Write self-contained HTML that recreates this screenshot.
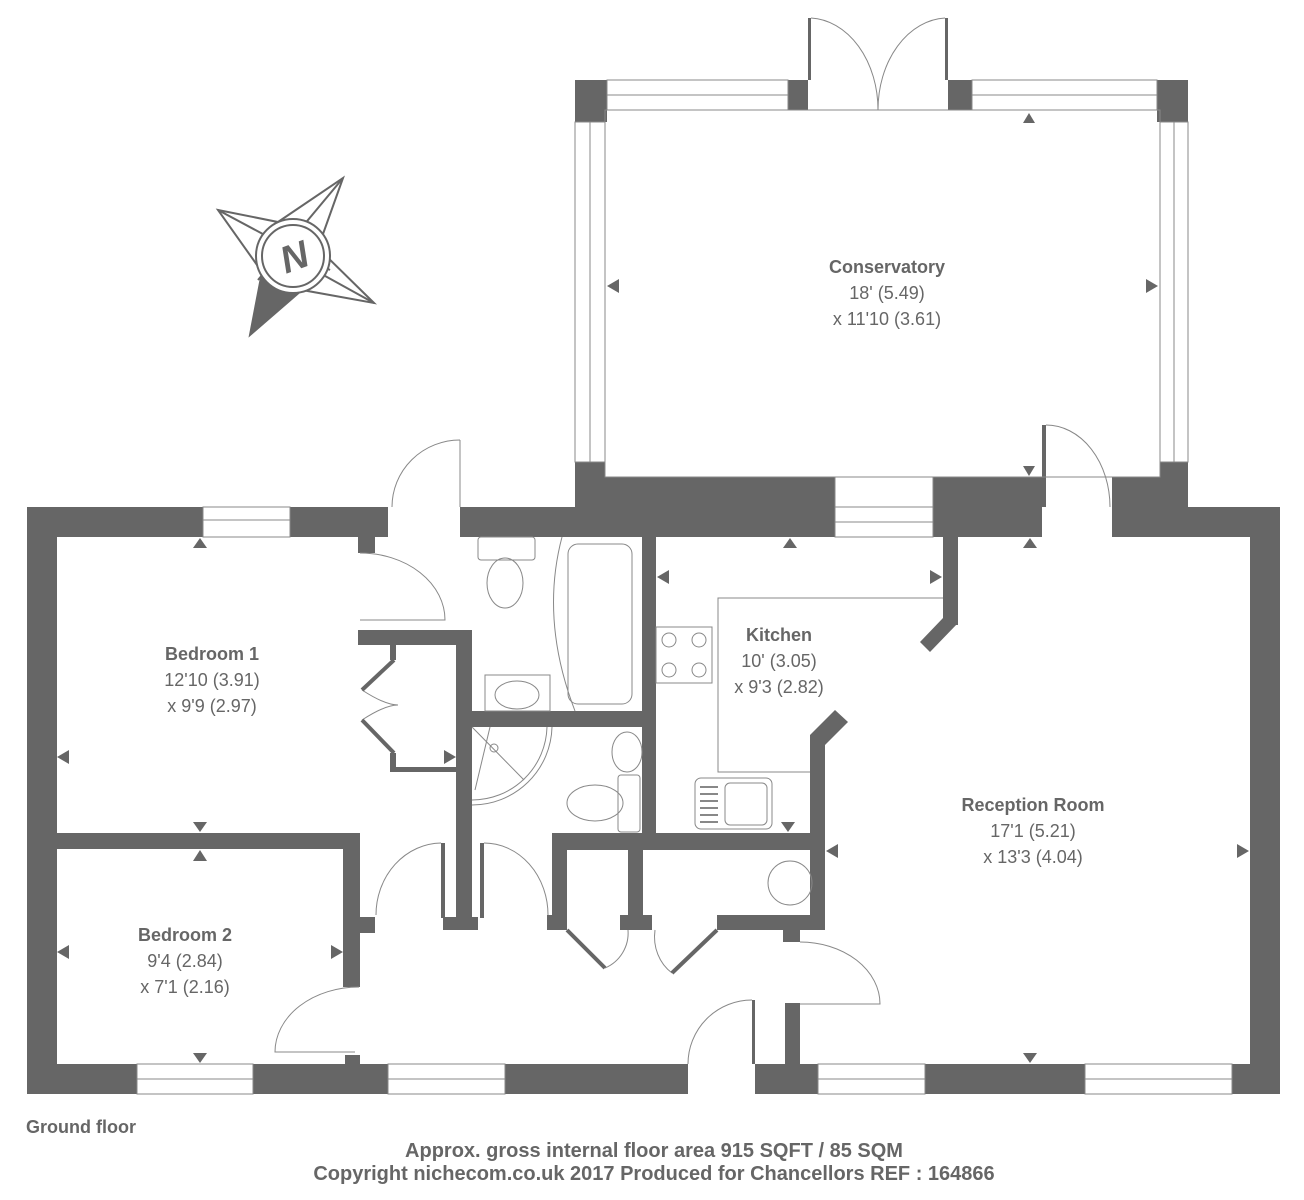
<!DOCTYPE html>
<html><head><style>
html,body{margin:0;padding:0;background:#fff}
svg{display:block}
text{font-family:"Liberation Sans",sans-serif;fill:#666}
</style></head><body>
<svg width="1304" height="1200" viewBox="0 0 1304 1200" xmlns="http://www.w3.org/2000/svg">
<g fill="#666">
<rect x="575" y="80" width="32" height="42"/>
<rect x="788" y="80" width="20" height="30"/>
<rect x="948" y="80" width="24" height="30"/>
<rect x="1157" y="80" width="31" height="42"/>
<rect x="575" y="462" width="30" height="20"/>
<rect x="1160" y="462" width="28" height="20"/>
<rect x="575" y="477" width="260" height="60"/>
<rect x="933" y="477" width="109" height="60"/>
<rect x="1112" y="477" width="76" height="60"/>
<rect x="27" y="507" width="176" height="30"/>
<rect x="290" y="507" width="98" height="30"/>
<rect x="358" y="537" width="17" height="16"/>
<rect x="460" y="507" width="120" height="30"/>
<rect x="1112" y="507" width="168" height="30"/>
<rect x="27" y="507" width="30" height="587"/>
<rect x="1250" y="507" width="30" height="587"/>
<rect x="27" y="1064" width="110" height="30"/>
<rect x="253" y="1064" width="135" height="30"/>
<rect x="505" y="1064" width="183" height="30"/>
<rect x="755" y="1064" width="63" height="30"/>
<rect x="925" y="1064" width="160" height="30"/>
<rect x="1232" y="1064" width="48" height="30"/>
<rect x="57" y="833" width="303" height="16"/>
<rect x="343" y="833" width="17" height="154"/>
<rect x="359" y="917" width="16" height="16"/>
<rect x="345" y="1055" width="15" height="9"/>
<rect x="358" y="630" width="114" height="15"/>
<rect x="456" y="630" width="16" height="300"/>
<rect x="443" y="917" width="35" height="13"/>
<rect x="390" y="645" width="6" height="15"/>
<rect x="390" y="753" width="6" height="19"/>
<rect x="390" y="767" width="66" height="5"/>
<rect x="441" y="843" width="4" height="75"/>
<rect x="480" y="843" width="4" height="75"/>
<rect x="472" y="711" width="170" height="16"/>
<rect x="642" y="537" width="14" height="300"/>
<rect x="552" y="833" width="273" height="17"/>
<rect x="552" y="833" width="15" height="97"/>
<rect x="547" y="915" width="20" height="15"/>
<rect x="628" y="850" width="15" height="80"/>
<rect x="620" y="915" width="32" height="15"/>
<rect x="717" y="915" width="108" height="15"/>
<rect x="810" y="735" width="15" height="195"/>
<polygon points="810,735 835,710 848,722 825,745"/>
<rect x="783" y="930" width="17" height="12"/>
<rect x="785" y="1003" width="15" height="61"/>
<rect x="943" y="537" width="15" height="88"/>
<polygon points="943,618 958,623 930,652 920,642"/>
<rect x="1042" y="425" width="4" height="82"/>
<rect x="808" y="18" width="3" height="62"/>
<rect x="945" y="18" width="3" height="62"/>
<rect x="752" y="1000" width="3" height="64"/>
</g>
<g fill="none" stroke="#888" stroke-width="1">
<rect x="607" y="80" width="181" height="30"/><line x1="607" y1="95" x2="788" y2="95"/>
<rect x="972" y="80" width="185" height="30"/><line x1="972" y1="95" x2="1157" y2="95"/>
<rect x="575" y="122" width="30" height="340"/><line x1="590" y1="122" x2="590" y2="462"/>
<rect x="1160" y="122" width="28" height="340"/><line x1="1174" y1="122" x2="1174" y2="462"/>
<rect x="835" y="477" width="98" height="60"/><line x1="835" y1="507" x2="933" y2="507"/><line x1="835" y1="522" x2="933" y2="522"/>
<rect x="203" y="507" width="87" height="30"/><line x1="203" y1="520" x2="290" y2="520"/>
<rect x="137" y="1064" width="116" height="30"/><line x1="137" y1="1079" x2="253" y2="1079"/>
<rect x="388" y="1064" width="117" height="30"/><line x1="388" y1="1079" x2="505" y2="1079"/>
<rect x="818" y="1064" width="107" height="30"/><line x1="818" y1="1079" x2="925" y2="1079"/>
<rect x="1085" y="1064" width="147" height="30"/><line x1="1085" y1="1079" x2="1232" y2="1079"/>
<rect x="605" y="110" width="555" height="367"/>
<path d="M811,18 A70,92 0 0 1 878,110"/>
<path d="M945,18 A70,92 0 0 0 878,110"/>
<path d="M1046,425 A64,82 0 0 1 1110,507"/>
<path d="M460,440 L460,507"/>
<path d="M460,440 A68,67 0 0 0 392,507"/>
<path d="M360,553 A85,67 0 0 1 445,620 L360,620"/>
<path d="M441,843 A66,72 0 0 0 376,915"/>
<path d="M484,843 A64,72 0 0 1 548,915"/>
<path d="M359,987 A84,65 0 0 0 275,1052 L355,1052"/>
<path d="M752,1000 A64,64 0 0 0 688,1064"/>
<path d="M800,942 A80,62 0 0 1 880,1004 L800,1004"/>
<path d="M605,968 A38,38 0 0 0 628,930"/>
<path d="M672,973 A38,43 0 0 1 655,930"/>
<path d="M362,690 Q385,705 398,705 Q385,705 362,720"/>
<rect x="478" y="537" width="57" height="23" rx="3"/>
<ellipse cx="505" cy="583" rx="18" ry="25"/>
<path d="M562,537 Q540,620 575,711"/>
<rect x="568" y="544" width="64" height="160" rx="10"/>
<rect x="485" y="675" width="65" height="36"/>
<ellipse cx="517" cy="695" rx="22" ry="14"/>
<path d="M472,800 A75,75 0 0 0 547,727"/>
<path d="M472,805 A80,80 0 0 0 552,727"/>
<circle cx="494" cy="748" r="4"/>
<line x1="472" y1="727" x2="524" y2="780"/><line x1="490" y1="727" x2="475" y2="790"/>
<ellipse cx="627" cy="752" rx="15" ry="20"/>
<rect x="618" y="775" width="22" height="57" rx="3"/>
<ellipse cx="595" cy="803" rx="28" ry="18"/>
<path d="M943,598 L718,598 L718,772 L810,772"/>
<rect x="656" y="627" width="56" height="56"/>
<circle cx="669" cy="640" r="7"/><circle cx="699" cy="640" r="7"/>
<circle cx="669" cy="670" r="7"/><circle cx="699" cy="670" r="7"/>
<rect x="695" y="778" width="77" height="51" rx="6"/>
<rect x="725" y="783" width="42" height="42" rx="5"/>
<g stroke-width="2"><line x1="700" y1="787" x2="718" y2="787"/><line x1="700" y1="794" x2="718" y2="794"/><line x1="700" y1="801" x2="718" y2="801"/><line x1="700" y1="808" x2="718" y2="808"/><line x1="700" y1="815" x2="718" y2="815"/><line x1="700" y1="822" x2="718" y2="822"/></g>
<circle cx="790" cy="883" r="22"/>
</g>
<g stroke="#666" stroke-width="4" fill="none">
<line x1="394" y1="660" x2="362" y2="690"/>
<line x1="362" y1="720" x2="394" y2="753"/>
<line x1="567" y1="930" x2="605" y2="968"/>
<line x1="717" y1="930" x2="672" y2="973"/>
</g>
<g fill="#666">
<polygon points="1023,123 1035,123 1029,113"/>
<polygon points="1023,466 1035,466 1029,476"/>
<polygon points="607,286 619,279 619,293"/>
<polygon points="1158,286 1146,279 1146,293"/>
<polygon points="193,548 207,548 200,538"/>
<polygon points="57,757 69,750 69,764"/>
<polygon points="456,757 444,750 444,764"/>
<polygon points="193,822 207,822 200,832"/>
<polygon points="193,861 207,861 200,850"/>
<polygon points="57,952 69,945 69,959"/>
<polygon points="343,952 331,945 331,959"/>
<polygon points="193,1053 207,1053 200,1063"/>
<polygon points="783,548 797,548 790,538"/>
<polygon points="657,577 669,570 669,584"/>
<polygon points="942,577 930,570 930,584"/>
<polygon points="781,822 795,822 788,832"/>
<polygon points="1023,548 1037,548 1030,538"/>
<polygon points="826,851 838,844 838,858"/>
<polygon points="1249,851 1237,844 1237,858"/>
<polygon points="1023,1053 1037,1053 1030,1063"/>
</g>
<!-- compass -->
<polygon points="250,335 262,272 300,292" fill="#666"/>
<g stroke="#666" stroke-width="2" fill="none" stroke-linejoin="miter">
<polygon points="218,210 278,222 343,178 318,248 374,303 302,290 250,335 262,272"/>
<line x1="218" y1="210" x2="330" y2="270"/>
<line x1="343" y1="178" x2="258" y2="280"/>
<line x1="374" y1="303" x2="260" y2="240"/>
</g>
<circle cx="293" cy="256" r="37" fill="#fff" stroke="#666" stroke-width="2"/>
<circle cx="293" cy="256" r="31" fill="none" stroke="#666" stroke-width="2"/>
<text x="294" y="270" text-anchor="middle" font-size="38" font-weight="bold" font-style="italic" transform="rotate(-20 294 256)">N</text>
<g text-anchor="middle" font-size="18">
<text x="887" y="273" font-weight="bold">Conservatory</text>
<text x="887" y="299">18' (5.49)</text>
<text x="887" y="325">x 11'10 (3.61)</text>
<text x="212" y="660" font-weight="bold">Bedroom 1</text>
<text x="212" y="686">12'10 (3.91)</text>
<text x="212" y="712">x 9'9 (2.97)</text>
<text x="185" y="941" font-weight="bold">Bedroom 2</text>
<text x="185" y="967">9'4 (2.84)</text>
<text x="185" y="993">x 7'1 (2.16)</text>
<text x="779" y="641" font-weight="bold">Kitchen</text>
<text x="779" y="667">10' (3.05)</text>
<text x="779" y="693">x 9'3 (2.82)</text>
<text x="1033" y="811" font-weight="bold">Reception Room</text>
<text x="1033" y="837">17'1 (5.21)</text>
<text x="1033" y="863">x 13'3 (4.04)</text>
</g>
<text x="26" y="1133" font-size="18" font-weight="bold">Ground floor</text>
<g text-anchor="middle" font-size="20" font-weight="bold">
<text x="654" y="1157">Approx. gross internal floor area 915 SQFT / 85 SQM</text>
<text x="654" y="1180">Copyright nichecom.co.uk 2017 Produced for Chancellors REF : 164866</text>
</g>
</svg>
</body></html>
